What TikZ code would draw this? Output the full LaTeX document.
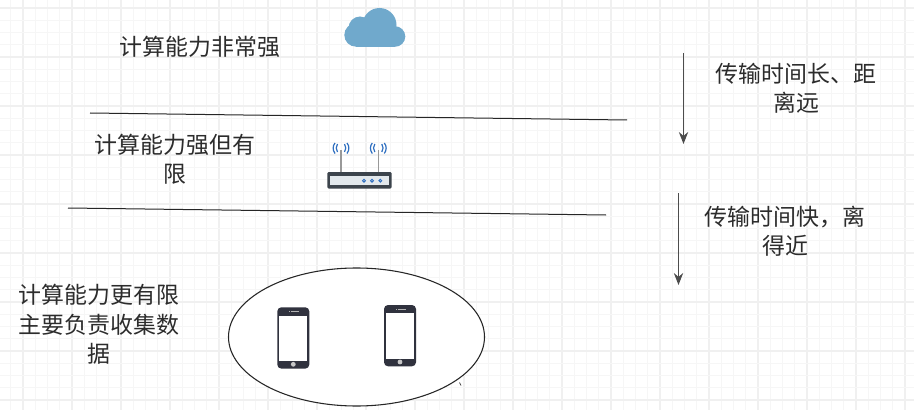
\documentclass[tikz,border=0pt]{standalone}
\usepackage{fontspec}
\setmainfont{Noto Sans CJK SC}
\usetikzlibrary{arrows.meta}
\definecolor{txt}{HTML}{2C2C2C}
\definecolor{gridc}{HTML}{F6F6F6}
\definecolor{gridb}{HTML}{F0F0F0}
\definecolor{cloudc}{HTML}{70A9CC}
\definecolor{routerd}{HTML}{3C444C}
\definecolor{routerl}{HTML}{E2E8EC}
\definecolor{wave}{HTML}{2F6FC0}
\definecolor{phoned}{HTML}{30323E}
\tikzset{
  label text/.style={inner sep=0pt,align=center,text=txt,font=\fontsize{17.2}{22}\selectfont},
  divider/.style={draw=black!85,line width=0.75pt},
  flow/.style={draw=black!70,line width=0.9pt,-{Stealth[length=9pt,width=7pt]}},
  phone body/.style={fill=phoned,rounded corners=3pt},
}
\begin{document}
\begin{tikzpicture}[x=0.75pt,y=-0.75pt]
\useasboundingbox (0,0) rectangle (914,410);
\fill[white] (0,0) rectangle (914,410);
% grid
\foreach \i in {0,...,74} {
  \pgfmathsetmacro{\gx}{-1.5+12.25*\i}
  \pgfmathtruncatemacro{\bold}{mod(\i,4)==2 ? 1 : 0}
  \ifnum\bold=1 \draw[gridb,line width=0.9pt] (\gx,0) -- (\gx,410);
  \else \draw[gridc,line width=0.6pt] (\gx,0) -- (\gx,410); \fi
}
\foreach \i in {0,...,33} {
  \pgfmathsetmacro{\gy}{8+12.25*\i}
  \pgfmathtruncatemacro{\bold}{mod(\i,4)==0 ? 1 : 0}
  \ifnum\bold=1 \draw[gridb,line width=0.9pt] (0,\gy) -- (914,\gy);
  \else \draw[gridc,line width=0.6pt] (0,\gy) -- (914,\gy); \fi
}
% cloud
\fill[cloudc] (379.5,25) circle (17);
\fill[cloudc] (360,28) circle (11.5);
\fill[cloudc] (356,35) circle (11.7);
\fill[cloudc] (395,36.5) circle (10.3);
\fill[cloudc] (356,30) rectangle (395,46.8);
% dividers
\coordinate (d1a) at (90,113); \coordinate (d1b) at (627,120);
\coordinate (d2a) at (68,208); \coordinate (d2b) at (606,215);
\draw[divider] (d1a) -- (d1b);
\draw[divider] (d2a) -- (d2b);
% arrows
\coordinate (a1a) at (683.5,53); \coordinate (a1b) at (683.5,144);
\coordinate (a2a) at (678.5,193); \coordinate (a2b) at (678.5,285);
\draw[flow] (a1a) -- (a1b);
\draw[flow] (a2a) -- (a2b);
% router
\draw[black!40,line width=1pt] (341,150) -- (341,172.5);
\draw[black!40,line width=1pt] (378.3,150) -- (378.3,172.5);
\foreach \ax in {341,378.3} {
  \draw[wave,line width=0.9pt] (\ax-3.5,144) .. controls (\ax-5.2,146.5) and (\ax-5.2,149.5) .. (\ax-3.5,152);
  \draw[wave,line width=0.9pt] (\ax+3.5,144) .. controls (\ax+5.2,146.5) and (\ax+5.2,149.5) .. (\ax+3.5,152);
  \draw[wave,line width=0.9pt] (\ax-6,143) .. controls (\ax-8.5,146) and (\ax-8.5,150) .. (\ax-6,153.5);
  \draw[wave,line width=0.9pt] (\ax+6,143) .. controls (\ax+8.5,146) and (\ax+8.5,150) .. (\ax+6,153.5);
}
\fill[routerd,rounded corners=1pt] (327.3,172) rectangle (391.7,188.6);
\fill[routerl] (330,176.3) rectangle (388.5,184.7);
\foreach \dx in {364,372,380.3} \draw[wave,line width=0.7pt] (\dx,180.7) circle (1.4);
% ellipse
\draw[fill=white,draw=black!85,line width=0.8pt] (356.5,337) ellipse [x radius=128,y radius=69];
\draw[black!70,line width=0.6pt] (459.5,382.5) -- (461,385.5);
% phones
\foreach \px/\py in {277.3/307.3,384/305} {
  \fill[phone body] (\px,\py) rectangle ++(32,61.3);
  \fill[white] (\px+2,\py+8.3) rectangle ++(28,45.5);
  \fill[black!22] (\px+16,\py+57) circle (2.4);
  \fill[black!30] (\px+11.5,\py+4) rectangle ++(1,1);
  \fill[black!30] (\px+14,\py+4.1) rectangle ++(7.5,0.7);
}
% labels
\node[label text] (t1) at (200,47) {计算能力非常强};
\node[label text] (t2) at (175,159) {计算能力强但有\\限};
\node[label text] (t3) at (99,324.5) {计算能力更有限\\主要负责收集数\\据};
\node[label text] (t4) at (796,88.5) {传输时间长、距\\离远};
\node[label text] (t5) at (785,231.5) {传输时间快，离\\得近};
\end{tikzpicture}
\end{document}
